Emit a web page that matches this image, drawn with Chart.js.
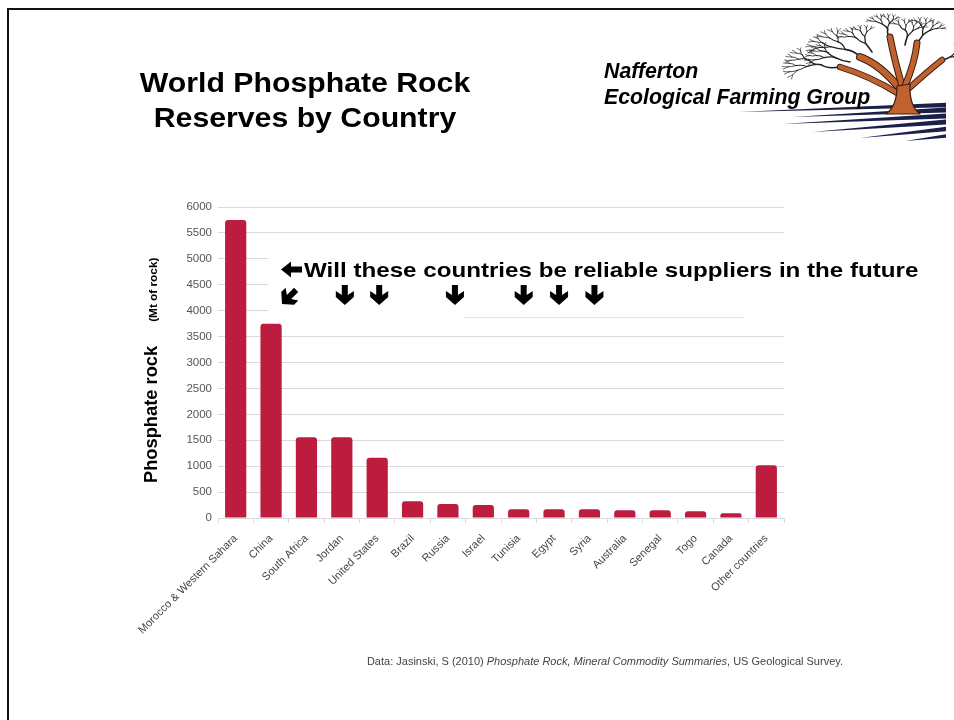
<!DOCTYPE html>
<html>
<head>
<meta charset="utf-8">
<script src="https://cdn.jsdelivr.net/npm/chart.js@4.4.1/dist/chart.umd.min.js"></script>
<style>
  body { margin: 0; width: 954px; height: 720px; background: #fff; overflow: hidden; position: relative;
         font-family: "Liberation Sans", Arial, sans-serif; }
  #frame { position: absolute; left: 7px; top: 8px; width: 980px; height: 740px;
           border-left: 2px solid #111; border-top: 2px solid #111; }
  #chart { position: absolute; left: 0; top: 0; }
  #logo { position: absolute; left: 720px; top: 0px; pointer-events: none; }
  .title { position: absolute; left: 0; top: 65px; width: 610px; text-align: center;
           font-weight: bold; font-size: 28px; line-height: 35px; color: #000;
           transform: scaleX(1.08); transform-origin: 305px 0; }
  .group { position: absolute; left: 604px; top: 58px; font-weight: bold; font-style: italic;
           font-size: 21.3px; line-height: 26px; color: #000; }
  .source { position: absolute; right: 111px; top: 655px; font-size: 11px; line-height: 13px;
            color: #444; white-space: nowrap; }
</style>
</head>
<body>
<div id="frame"></div>
<canvas id="chart" width="954" height="720"></canvas>
<canvas id="logo" width="234" height="150"></canvas>
<div class="title">World Phosphate Rock<br>Reserves by Country</div>
<div class="group">Nafferton<br>Ecological Farming Group</div>
<div class="source">Data: Jasinski, S (2010) <i>Phosphate Rock, Mineral Commodity Summaries</i>, US Geological Survey.</div>

<script>
// Phosphate rock reserves, million tonnes of rock
const countries = ['Morocco & Western Sahara', 'China', 'South Africa', 'Jordan', 'United States',
  'Brazil', 'Russia', 'Israel', 'Tunisia', 'Egypt', 'Syria', 'Australia', 'Senegal', 'Togo',
  'Canada', 'Other countries'];
const reserves = [5750, 3750, 1560, 1560, 1160, 325, 270, 250, 170, 170, 170, 150, 150, 130, 90, 1020];
const yTicks = [0, 500, 1000, 1500, 2000, 2500, 3000, 3500, 4000, 4500, 5000, 5500, 6000];

// countries flagged by the note's arrows, with a small nudge to the right of each bar
const downArrows = ['Jordan', 'United States', 'Russia', 'Tunisia', 'Egypt', 'Syria'];
const arrowNudge = [3, 2, 7, 5, 5, 5];
const slantArrow = 'China';
const noteText = 'Will these countries be reliable suppliers in the future';

const barRed = '#be1c3e';
const gridGrey = '#d9d9d9';
const font = '"Liberation Sans", Arial, sans-serif';

function downArrow(ctx, cx, top) {
    ctx.beginPath();
    ctx.moveTo(cx - 3, top);
    ctx.lineTo(cx + 3, top);
    ctx.lineTo(cx + 3, top + 10);
    ctx.lineTo(cx + 9, top + 6);
    ctx.lineTo(cx + 9, top + 12);
    ctx.lineTo(cx, top + 20);
    ctx.lineTo(cx - 9, top + 12);
    ctx.lineTo(cx - 9, top + 6);
    ctx.lineTo(cx - 3, top + 10);
    ctx.closePath();
    ctx.fill();
}

const notePlugin = {
    id: 'note',
    beforeDatasetsDraw(chart) {
        const ctx = chart.ctx;
        ctx.save();
        // the note sits on a white box over the upper grid lines
        ctx.fillStyle = '#fff';
        ctx.fillRect(268, 244, 560, 72);
        ctx.strokeStyle = '#e4e4e4';
        ctx.lineWidth = 1;
        ctx.beginPath();
        ctx.moveTo(463, 317.5);
        ctx.lineTo(745, 317.5);
        ctx.stroke();
        ctx.restore();
    },
    afterDatasetsDraw(chart) {
        const ctx = chart.ctx;
        const x = chart.scales.x;
        ctx.save();
        ctx.fillStyle = '#000';

        // left-pointing arrow before the text
        ctx.beginPath();
        ctx.moveTo(281, 269.5);
        ctx.lineTo(291, 261.5);
        ctx.lineTo(291, 266.5);
        ctx.lineTo(302, 266.5);
        ctx.lineTo(302, 272.5);
        ctx.lineTo(291, 272.5);
        ctx.lineTo(291, 277.5);
        ctx.closePath();
        ctx.fill();

        ctx.save();
        ctx.translate(304, 277);
        ctx.scale(1.15, 1);
        ctx.font = 'bold 21px ' + font;
        ctx.textBaseline = 'alphabetic';
        ctx.fillText(noteText, 0, 0);
        ctx.restore();

        downArrows.forEach((name, i) => {
            const cx = x.getPixelForValue(countries.indexOf(name)) + arrowNudge[i];
            downArrow(ctx, cx, 285);
        });

        // slanted arrow aimed at China's bar
        const sx = x.getPixelForValue(countries.indexOf(slantArrow)) + 18;
        ctx.save();
        ctx.translate(sx, 297);
        ctx.rotate(Math.PI / 4);
        downArrow(ctx, 0, -10);
        ctx.restore();
        ctx.restore();
    },
    afterDraw(chart) {
        // y axis title: large "Phosphate rock", smaller "(Mt of rock)"
        const ctx = chart.ctx;
        ctx.save();
        ctx.translate(157, 483);
        ctx.rotate(-Math.PI / 2);
        ctx.fillStyle = '#000';
        ctx.textBaseline = 'alphabetic';
        ctx.font = 'bold 18.3px ' + font;
        ctx.fillText('Phosphate rock', 0, 0);
        const w = ctx.measureText('Phosphate rock').width;
        ctx.font = 'bold 11.8px ' + font;
        ctx.fillText('(Mt of rock)', w + 24, 0);
        ctx.restore();
    }
};

new Chart(document.getElementById('chart').getContext('2d'), {
    type: 'bar',
    data: {
        labels: countries,
        datasets: [{
            data: reserves,
            backgroundColor: barRed,
            borderWidth: 0,
            borderRadius: { topLeft: 3, topRight: 3 },
            borderSkipped: 'bottom',
            categoryPercentage: 1,
            barPercentage: 0.6
        }]
    },
    options: {
        responsive: false,
        animation: false,
        layout: { padding: { left: 120, top: 207, right: 170, bottom: 72 } },
        plugins: {
            legend: { display: false },
            tooltip: { enabled: false }
        },
        scales: {
            x: {
                grid: { display: true, drawOnChartArea: false, drawTicks: true, tickLength: 5, color: gridGrey, offset: true },
                border: { display: true, color: gridGrey },
                ticks: {
                    maxRotation: 45, minRotation: 45, autoSkip: false, padding: 9,
                    color: '#454545',
                    font: { family: font, size: 11 }
                },
                afterFit: s => { s.height = 130; }
            },
            y: {
                min: 0, max: 6000,
                afterBuildTicks: s => { s.ticks = yTicks.map(v => ({ value: v })); },
                grid: { color: gridGrey, drawTicks: false },
                border: { display: false },
                ticks: {
                    padding: 6, color: '#555',
                    font: { family: font, size: 11.5 },
                    callback: v => String(v)
                },
                afterFit: s => { s.width = 98; }
            }
        }
    },
    plugins: [notePlugin]
});

// Nafferton tree logo
(function drawLogo() {
    const ctx = document.getElementById('logo').getContext('2d');
    ctx.translate(-720, 0);
    ctx.lineCap = 'round';
    ctx.lineJoin = 'round';

    // furrows in the field
    ctx.fillStyle = '#1c1f48';
    const furrows = [
        [[738, 112], [946, 105], 2.2],
        [[792, 117], [946, 110], 2.4],
        [[782, 124], [946, 116], 2.6],
        [[812, 132], [946, 122], 2.6],
        [[860, 138], [946, 129], 2.2],
        [[905, 141], [946, 136], 1.8]
    ];
    furrows.forEach(([a, b, w]) => {
        ctx.beginPath();
        ctx.moveTo(a[0], a[1]);
        ctx.lineTo(b[0], b[1] - w);
        ctx.lineTo(b[0], b[1] + w);
        ctx.closePath();
        ctx.fill();
    });

    // wavy black twigs forming a wide, flat crown
    ctx.strokeStyle = '#222';
    function twig(x, y, ang, len, depth, w) {
        const x2 = x + Math.cos(ang) * len * 1.3;
        const y2 = y + Math.sin(ang) * len * 0.8;
        const bend = Math.sin(ang * 5 + depth * 1.7) * len * 0.22;
        ctx.lineWidth = w;
        ctx.beginPath();
        ctx.moveTo(x, y);
        ctx.quadraticCurveTo((x + x2) / 2 + bend, (y + y2) / 2 - bend, x2, y2);
        ctx.stroke();
        if (depth > 0) {
            twig(x2, y2, ang - 0.4, len * 0.76, depth - 1, w * 0.8);
            twig(x2, y2, ang + 0.36, len * 0.72, depth - 1, w * 0.8);
        }
    }
    const crown = [
        [860, 57, -2.45, 15], [840, 67, -2.95, 15], [872, 52, -2.0, 12],
        [890, 37, -1.75, 10], [905, 45, -1.4, 11], [917, 43, -1.15, 11],
        [942, 60, -0.55, 8], [850, 62, -2.7, 12]
    ];
    crown.forEach(([x, y, a, l]) => twig(x, y, a, l, 4, 1.6));

    // brown trunk and limbs with a dark outline
    const brown = '#c0622f';
    const limbs = [
        { path: [[901, 90], [880, 64], [860, 57]], w: 6 },
        { path: [[902, 86], [894, 58], [890, 37]], w: 5 },
        { path: [[905, 86], [915, 62], [917, 43]], w: 5 },
        { path: [[907, 90], [927, 72], [942, 60]], w: 4.5 },
        { path: [[899, 94], [870, 76], [840, 67]], w: 4.5 }
    ];
    limbs.forEach(l => {
        ['#3a1c10', brown].forEach((c, k) => {
            ctx.strokeStyle = c;
            ctx.lineWidth = l.w + (k === 0 ? 2 : 0);
            ctx.beginPath();
            ctx.moveTo(l.path[0][0], l.path[0][1]);
            ctx.quadraticCurveTo(l.path[1][0], l.path[1][1], l.path[2][0], l.path[2][1]);
            ctx.stroke();
        });
    });
    ctx.fillStyle = brown;
    ctx.strokeStyle = '#3a1c10';
    ctx.lineWidth = 1.2;
    ctx.beginPath();
    ctx.moveTo(886, 114);
    ctx.quadraticCurveTo(897, 106, 897, 86);
    ctx.lineTo(910, 84);
    ctx.quadraticCurveTo(909, 106, 920, 114);
    ctx.closePath();
    ctx.fill();
    ctx.stroke();
})();
</script>
</body>
</html>
